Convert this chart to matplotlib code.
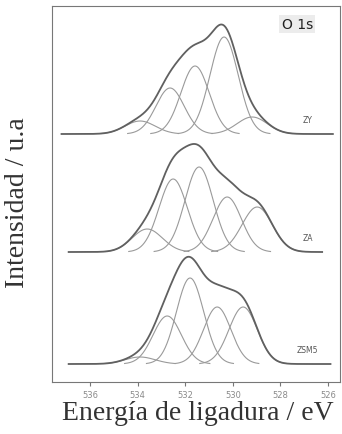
import numpy as np
import matplotlib
matplotlib.use('Agg')
import matplotlib.pyplot as plt

# O 1s XPS deconvolution for three zeolites (binding energy in eV, intensity in a.u.)
samples = ['ZY', 'ZA', 'ZSM5']
offsets = [248, 130, 18]                    # vertical stacking offsets
centers = [[533.9, 532.64, 531.59, 530.37, 529.19],
           [533.6, 532.51, 531.42, 530.24, 528.98],
           [533.9, 532.76, 531.80, 530.66, 529.57]]
heights = [[13, 46, 68, 97, 17],
           [23, 73, 85, 55, 45],
           [7, 48, 86, 57, 57]]
fwhm = [[1.5, 1.4, 1.4, 1.4, 1.5],
        [1.5, 1.4, 1.4, 1.4, 1.5],
        [1.5, 1.4, 1.35, 1.35, 1.4]]
base_ranges = [(537.2, 525.8), (536.9, 526.25), (536.9, 525.9)]
ticks = [536, 534, 532, 530, 528, 526]


def gauss(x, c, h, w):
    s = w / 2.3548
    return h * np.exp(-(x - c) ** 2 / (2 * s ** 2))


fig = plt.figure(figsize=(3.42, 4.35), dpi=100)
ax = fig.add_axes([52 / 342, 1 - 383 / 435, 288 / 342, 376 / 435])

for k in range(3):
    x = np.linspace(base_ranges[k][0], base_ranges[k][1], 600)
    env = np.zeros_like(x)
    for c, h, w in zip(centers[k], heights[k], fwhm[k]):
        comp = gauss(x, c, h, w)
        env += comp
        m = comp > 0.5
        ax.plot(x[m], comp[m] + offsets[k], color='#9a9a9a', lw=0.8)
    ax.plot(x, env + offsets[k], color='#606060', lw=1.3)
    ax.text(526.85, offsets[k] + 10, samples[k], fontsize=5.5, color='#555555',
            ha='center', va='bottom')

ax.text(527.3, 358, 'O 1s', fontsize=10, color='#222222', ha='center', va='center',
        bbox=dict(facecolor='#ececec', edgecolor='none', pad=1.5))

ax.set_xlim(537.6, 525.5)
ax.set_ylim(0, 376)
ax.set_yticks([])
ax.set_xticks(ticks)
ax.set_xticklabels([str(t) for t in ticks], fontsize=6, color='#8a8a8a')
ax.tick_params(axis='x', direction='out', length=3, width=0.8, color='#777777', pad=3)
for sp in ax.spines.values():
    sp.set_color('#777777')
    sp.set_linewidth(0.8)

fig.text(198 / 342, 1 - 414 / 435, 'Energía de ligadura / eV', family='Liberation Serif',
         fontsize=20, color='#333333', ha='center', va='center')
fig.text(18 / 342, 1 - 203 / 435, 'Intensidad / u.a', family='Liberation Serif',
         fontsize=20, color='#333333', ha='center', va='center', rotation=90)

fig.savefig('out.png', dpi=100)
